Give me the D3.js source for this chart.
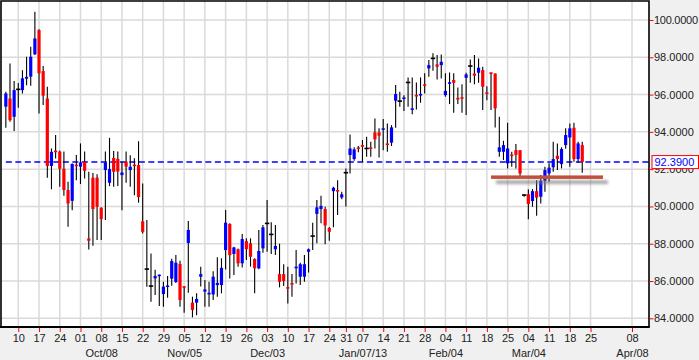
<!DOCTYPE html>
<html><head><meta charset="utf-8">
<script src="https://cdn.jsdelivr.net/npm/d3@7"></script>
<style>body{margin:0;background:#f0f0f0;}svg{display:block}</style>
</head><body><svg id="c" width="699" height="360"></svg>
<script>
// ---- data ----
const axisStart = "2012-09-04", axisEnd = "2013-04-12";
const holidays = ["2012-12-25", "2013-01-01"];
const firstBarDate = "2012-09-05";
const opens = [95.35,95.79,94.81,96.28,96.24,96.85,96.96,98.16,99.46,97.26,95.79,92.17,92.95,92.94,92.02,90.88,90.30,92.20,92.13,92.40,88.28,91.54,91.54,89.93,91.95,91.27,92.60,92.55,91.68,92.40,91.95,92.20,92.22,89.20,86.64,85.73,86.14,86.22,85.30,85.66,86.13,85.95,86.91,85.68,88.04,84.84,84.84,86.23,85.43,85.28,85.28,85.78,85.78,87.66,89.06,87.45,87.70,86.95,88.14,88.02,87.18,86.68,87.75,89.09,88.50,87.70,86.37,86.37,85.63,85.85,86.68,86.23,86.23,87.57,88.41,89.60,89.86,89.86,88.84,90.82,90.84,90.48,91.81,92.76,92.54,93.12,93.29,93.11,93.13,93.97,93.97,94.11,93.38,93.42,95.67,95.65,95.76,96.65,95.18,95.94,95.95,96.51,97.40,97.94,97.62,97.58,95.97,96.58,96.78,95.78,95.82,96.90,97.53,97.13,97.17,97.31,96.08,97.15,97.13,92.93,92.93,92.31,92.74,93.02,93.02,90.61,90.66,90.29,90.82,90.52,91.38,91.77,92.10,92.72,92.27,93.29,93.70,94.22,92.54,93.29];
const highs = [96.15,97.67,96.73,96.62,97.31,98.03,98.57,100.44,99.50,97.53,96.42,93.11,93.83,93.00,92.95,91.32,92.30,92.76,93.38,92.94,91.86,91.80,91.72,89.95,92.94,93.68,92.97,92.95,92.40,92.94,92.75,92.58,93.50,91.23,89.27,87.48,86.60,86.35,85.96,86.27,87.20,87.39,87.09,85.70,89.22,85.16,85.34,86.77,86.05,85.96,86.53,87.27,87.22,89.81,89.10,87.84,87.75,88.52,88.29,88.29,87.22,88.73,89.00,90.34,89.15,89.00,88.00,86.90,86.77,86.37,87.66,86.98,87.40,87.75,89.13,90.34,90.57,89.98,88.90,91.06,91.41,90.79,92.04,93.86,93.17,93.24,93.56,93.74,93.47,94.72,94.19,94.69,94.45,94.36,96.51,96.15,95.97,96.92,96.92,96.65,96.92,97.14,97.85,98.21,98.12,98.15,97.14,97.19,97.14,96.38,96.56,97.17,97.88,98.12,97.94,97.49,96.45,97.19,97.13,94.81,93.52,94.49,92.93,93.35,93.02,90.66,90.92,90.93,91.41,91.68,92.13,92.31,93.47,93.38,93.17,94.19,94.45,94.49,93.47,93.47];
const lows = [94.22,94.54,94.04,95.30,96.06,96.50,96.48,98.12,94.99,95.44,91.54,90.92,92.57,91.06,90.57,88.91,89.80,91.40,91.20,91.50,87.69,87.89,88.20,88.20,89.27,91.09,91.05,91.10,89.80,91.27,91.05,90.60,90.20,88.55,85.69,84.89,85.25,84.66,84.62,85.10,85.75,85.90,84.62,84.30,85.37,84.05,84.17,85.70,84.62,84.62,84.98,85.16,85.34,86.62,86.14,86.32,86.77,86.73,87.13,86.77,85.34,86.63,87.52,87.57,87.45,87.40,85.66,85.73,84.80,85.16,85.87,85.78,85.96,86.45,87.66,88.02,89.10,87.97,88.16,88.88,89.54,90.38,89.99,91.77,92.45,92.90,92.40,92.66,92.66,93.11,92.63,93.02,92.93,93.24,94.22,95.35,95.12,95.35,94.94,95.20,95.56,96.06,96.96,97.28,96.81,96.86,95.88,95.49,95.02,95.49,95.02,94.90,96.63,96.56,96.63,95.17,95.70,95.17,94.24,92.67,92.49,92.04,92.13,92.04,91.63,90.52,89.31,89.98,89.50,90.16,90.79,91.33,91.86,91.95,92.04,93.10,92.13,92.40,92.34,91.81];
const closes = [96.06,94.63,96.24,96.28,96.87,96.95,98.03,99.01,97.14,95.94,92.17,92.93,92.88,92.02,90.88,90.16,92.28,92.15,92.36,91.91,88.16,89.86,89.98,89.32,92.36,92.00,91.86,91.87,91.82,92.13,92.13,92.14,90.50,88.64,86.64,85.73,86.27,86.30,85.70,85.72,87.07,86.98,84.98,85.64,88.74,84.45,85.04,86.37,85.55,85.37,86.23,85.90,86.71,89.13,87.39,87.80,86.95,88.25,87.71,87.30,86.68,87.61,88.88,89.09,88.50,87.88,85.96,86.00,85.58,85.80,86.77,86.90,86.90,87.70,88.41,89.95,90.03,88.98,88.64,91.00,90.80,90.65,91.81,93.11,93.06,93.08,93.20,93.11,93.09,93.60,93.79,94.15,93.29,94.24,96.03,95.65,95.85,96.65,95.22,95.90,95.99,96.47,97.58,97.94,97.49,97.76,96.20,96.62,96.63,95.74,95.78,97.08,97.53,97.01,97.44,96.42,96.04,97.11,95.26,93.17,93.29,93.11,92.70,92.76,91.77,90.61,90.13,90.82,90.47,91.38,91.95,92.08,92.54,92.54,93.08,93.83,94.19,92.54,93.38,92.39];
const yTicks = [84, 86, 88, 90, 92, 94, 96, 98, 100];
const tickDates = ["2012-09-10","2012-09-17","2012-09-24","2012-10-01","2012-10-08","2012-10-15","2012-10-22","2012-10-29","2012-11-05","2012-11-12","2012-11-19","2012-11-26","2012-12-03","2012-12-10","2012-12-17","2012-12-24","2012-12-31","2013-01-07","2013-01-14","2013-01-21","2013-01-28","2013-02-04","2013-02-11","2013-02-18","2013-02-25","2013-03-04","2013-03-11","2013-03-18","2013-03-25","2013-04-08"];
const monthLabelDates = ["2012-10-08","2012-11-05","2012-12-03","2013-01-07","2013-02-04","2013-03-04","2013-04-08"];
const monthLabelTexts = ["Oct/08","Nov/05","Dec/03","Jan/07/13","Feb/04","Mar/04","Apr/08"];
const lastPrice = 92.39;
const supportLevel = 91.57, supportFrom = "2013-02-19", supportTo = "2013-03-28";

// ---- build ----
const fmt = d3.timeFormat("%Y-%m-%d"), parse = d3.timeParse("%Y-%m-%d");
const days = d3.timeDay.range(parse(axisStart), d3.timeDay.offset(parse(axisEnd), 1))
  .filter(d => d.getDay() !== 0 && d.getDay() !== 6).map(fmt)
  .filter(s => !holidays.includes(s));
const startIdx = days.indexOf(firstBarDate);
const bars = opens.map((o, i) => ({date: days[startIdx + i], o, h: highs[i], l: lows[i], c: closes[i]}));

const L = 1, R = 649, T = 1, B = 327;
const x = d3.scalePoint().domain(days).range([1.7, 648.6]);
const y = d3.scaleLinear().domain([84, 100]).range([318.3, 20]);

const svg = d3.select("#c");
svg.append("rect").attr("width", 699).attr("height", 360).attr("fill", "#f0f0f0");
const defs = svg.append("defs");
defs.append("clipPath").attr("id", "clip").append("rect").attr("x", L).attr("y", T).attr("width", R - L).attr("height", B - T);
const f = defs.append("filter").attr("id", "sh").attr("filterUnits", "userSpaceOnUse")
  .attr("x", 0).attr("y", 0).attr("width", 699).attr("height", 360);
f.append("feDropShadow").attr("dx", 5).attr("dy", 5).attr("stdDeviation", 1.8).attr("flood-color", "#777").attr("flood-opacity", 0.7);

svg.append("rect").attr("x", L).attr("y", T).attr("width", R - L).attr("height", B - T).attr("fill", "#fff");

const grid = svg.append("g").attr("stroke", "#dadada").attr("stroke-width", 1.5);
grid.selectAll(".h").data(yTicks).join("line").attr("x1", L).attr("x2", R).attr("y1", d => y(d)).attr("y2", d => y(d));
grid.selectAll(".v").data(tickDates).join("line").attr("y1", T).attr("y2", B).attr("x1", d => x(d)).attr("x2", d => x(d));

const plot = svg.append("g").attr("clip-path", "url(#clip)");
// last price dashed line
plot.append("line").attr("x1", x(firstBarDate)).attr("x2", R).attr("y1", y(lastPrice)).attr("y2", y(lastPrice))
  .attr("stroke", "#0000ff").attr("stroke-width", 1.5).attr("stroke-dasharray", "6,3.5");

const cg = plot.append("g");
cg.selectAll(".w").data(bars).join("line")
  .attr("x1", d => x(d.date)).attr("x2", d => x(d.date))
  .attr("y1", d => y(d.h)).attr("y2", d => y(d.l)).attr("stroke", "#000").attr("stroke-width", 1.1);
cg.selectAll(".b").data(bars).join("rect")
  .attr("x", d => x(d.date) - (d.c === d.o ? 2.2 : 1.6))
  .attr("width", d => d.c === d.o ? 4.4 : 3.2)
  .attr("y", d => Math.min(y(d.o), y(d.c)) - (Math.abs(y(d.o) - y(d.c)) < 1.6 ? 0.8 : 0))
  .attr("height", d => Math.max(1.6, Math.abs(y(d.o) - y(d.c))))
  .attr("fill", d => d.c > d.o ? "#0000ff" : d.c < d.o ? "#ff0000" : "#000");

// support line with shadow
svg.append("rect").attr("x", x(supportFrom)).attr("width", x(supportTo) - x(supportFrom))
  .attr("y", y(supportLevel) - 1.75).attr("height", 3.5)
  .attr("fill", "#c0503a").attr("filter", "url(#sh)");

// frame
svg.append("path").attr("d", `M${L},${B}V${T}H${R}V${B}`).attr("fill", "none").attr("stroke", "#000").attr("stroke-width", 1.6);
svg.append("line").attr("x1", 0).attr("x2", R + 0.8).attr("y1", B).attr("y2", B).attr("stroke", "#000").attr("stroke-width", 2);

const font = "'Liberation Sans', Arial, sans-serif";
// y axis
const ya = svg.append("g").attr("transform", `translate(${R + 0.5},0)`)
  .call(d3.axisRight(y).tickValues(yTicks).tickFormat(d3.format(".4f")).tickSize(4).tickPadding(0.5));
ya.select(".domain").remove();
ya.selectAll(".tick line").attr("stroke", "#ff0000");
ya.attr("font-size", 11).attr("font-family", font);
ya.selectAll("text").attr("fill", "#222").attr("textLength", d => d >= 100 ? 44 : null);

// x axis
const xa = svg.append("g").attr("transform", `translate(0,${B})`)
  .call(d3.axisBottom(x).tickValues(tickDates).tickFormat(d => d.slice(8)).tickSize(4).tickPadding(3));
xa.select(".domain").remove();
xa.selectAll(".tick line").attr("stroke", "#ff0000").attr("transform", "translate(0,1)");
xa.attr("font-size", 11).attr("font-family", font);
xa.selectAll("text").attr("fill", "#222");

const ma = svg.append("g").attr("transform", `translate(0,${B})`)
  .call(d3.axisBottom(x).tickValues(monthLabelDates).tickFormat(d => monthLabelTexts[monthLabelDates.indexOf(d)]).tickSize(0).tickPadding(22.5));
ma.select(".domain").remove();
ma.attr("font-size", 11).attr("font-family", font);
ma.selectAll("text").attr("fill", "#222");

// last price label
const py = y(lastPrice);
svg.append("rect").attr("x", 652).attr("y", py - 6.3).attr("width", 46.5).attr("height", 13)
  .attr("fill", "#fff").attr("stroke", "#ff0000").attr("stroke-width", 1);
svg.append("text").attr("x", 654.5).attr("y", py).attr("dy", "0.35em").attr("font-size", 11).attr("font-family", font)
  .attr("fill", "#0000ff").text(d3.format(".4f")(lastPrice));
</script></body></html>
